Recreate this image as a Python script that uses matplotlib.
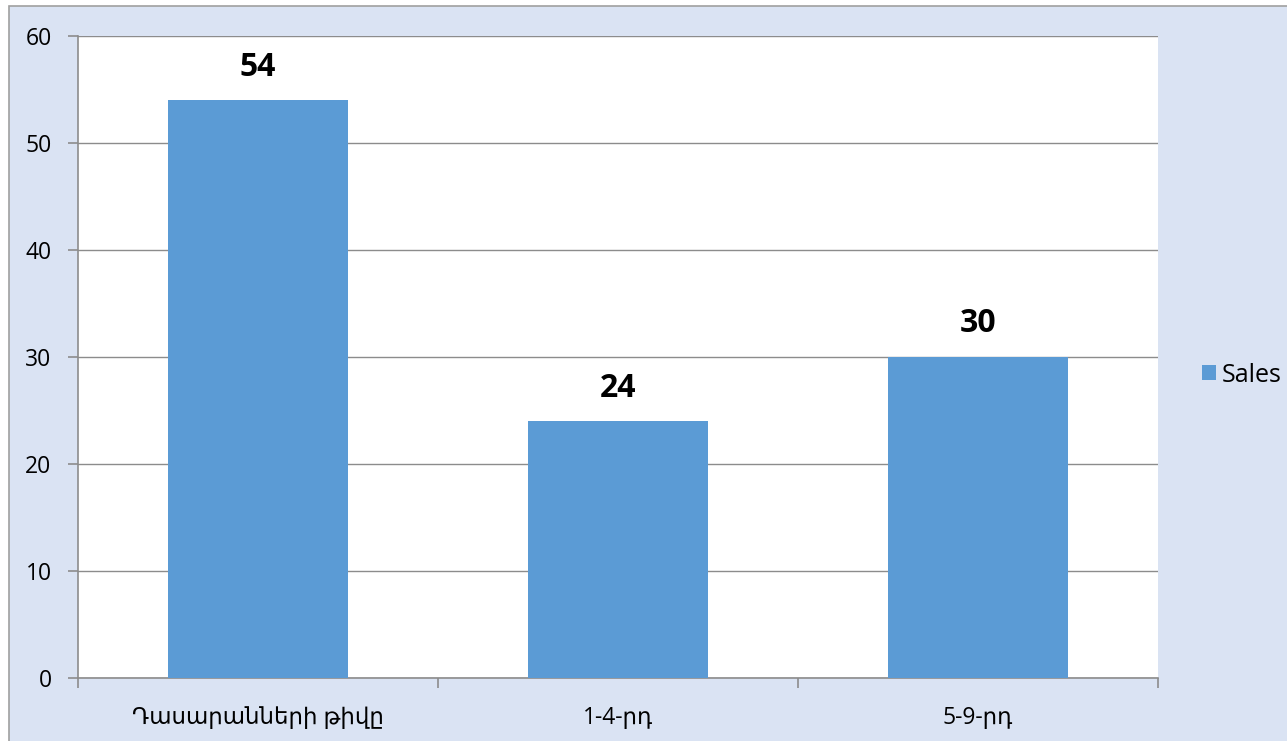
import matplotlib.pyplot as plt
from matplotlib.patches import Rectangle

# chart data
categories = ['Դասարանների թիվը', '1-4-րդ', '5-9-րդ']
sales = [54, 24, 30]
y_ticks = [0, 10, 20, 30, 40, 50, 60]
series_name = 'Sales'

bg_color = '#DAE3F3'
bar_color = '#5B9BD5'
grid_color = '#8C8C8C'

plt.rcParams['font.family'] = ['Open Sans', 'DejaVu Sans']

W, H = 1287, 741
fig = plt.figure(figsize=(W / 100, H / 100), dpi=100)
fig.patch.set_facecolor('white')

# light blue chart area with a thin gray outline (behind the axes)
fig.patches.append(Rectangle((9 / W, -0.05), 1.1, (H - 6) / H + 0.05,
                             transform=fig.transFigure, facecolor=bg_color,
                             edgecolor='#A0A0A0', linewidth=1.2, zorder=-10))

# plot area in pixel coordinates
left, right, top, bottom = 78, 1158, 36, 678
ax = fig.add_axes([left / W, 1 - bottom / H, (right - left) / W, (bottom - top) / H])
ax.set_facecolor('white')

x = list(range(len(categories)))
ax.bar(x, sales, width=0.5, color=bar_color, zorder=3, label=series_name)

for xi, v in zip(x, sales):
    ax.annotate(str(v), (xi, v), xytext=(0, 12), textcoords='offset points',
                ha='center', va='bottom', fontsize=23, fontweight='bold', color='black')

ax.set_xlim(-0.5, len(categories) - 0.5)
ax.set_ylim(0, 60)
ax.set_yticks(y_ticks)
ax.yaxis.grid(True, color=grid_color, linewidth=1.0, zorder=0)
ax.set_axisbelow(True)

ax.set_xticks(x)
ax.set_xticklabels(categories, fontsize=16.5)
ax.tick_params(axis='x', length=0, pad=20)
# category boundary ticks
ax.set_xticks([i - 0.5 for i in range(len(categories) + 1)], minor=True)
ax.tick_params(axis='x', which='minor', length=7, color=grid_color, width=1.2)
ax.tick_params(axis='y', labelsize=16.5, length=7, color=grid_color, width=1.2, pad=12)

for side in ['top', 'right']:
    ax.spines[side].set_visible(False)
for side in ['left', 'bottom']:
    ax.spines[side].set_color(grid_color)
    ax.spines[side].set_linewidth(1.2)

leg = fig.legend(loc='center left', bbox_to_anchor=(1192 / W, 1 - 375 / H),
                 frameon=False, fontsize=18, handlelength=0.55, handleheight=0.55,
                 handletextpad=0.25, borderaxespad=0)

plt.savefig('out.png', dpi=100, facecolor=fig.get_facecolor())
